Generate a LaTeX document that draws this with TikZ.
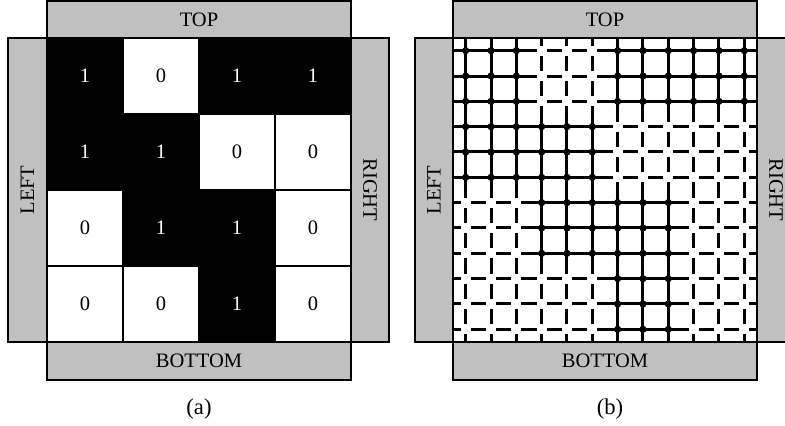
\documentclass[tikz,border=0pt]{standalone}
\usepackage{fontspec}
\setmainfont{Liberation Serif}

\definecolor{sidegray}{RGB}{192,192,192}
\def\cellvals{1,0,1,1, 1,1,0,0, 0,1,1,0, 0,0,1,0}

\begin{document}
\begin{tikzpicture}[x=0.75pt,y=0.75pt,yscale=-1,xscale=1,
	sidebox/.style={draw=black,line width=0.9pt,fill=sidegray},
	lbl/.style={font=\fontsize{15.4}{18}\selectfont},
	captxt/.style={font=\fontsize{17}{20}\selectfont},
	cellbox/.style={draw=black,line width=1.5pt},
	wire/.style={line width=2.25pt}]
		\clip (0,0) rectangle (785,425);
		
		% (a) the 4x4 cells
		\foreach \v [count=\i from 0] in \cellvals {
			\pgfmathtruncatemacro\r{floor(\i/4)}
			\pgfmathtruncatemacro\c{mod(\i,4)}
			\ifnum\v=1 \def\fc{black}\def\tc{white}\else \def\fc{white}\def\tc{black}\fi
			\draw[cellbox,fill=\fc] (47+76*\c,38+76*\r) rectangle ++(76,76);
			\node[lbl,text=\tc] (cell-\i) at (85+76*\c,76+76*\r) {\v};
		}
		
		% (b) the 12x12 grid
		\foreach \k in {0,...,11}{
			\draw[wire] (465.67+25.33*\k,38) -- (465.67+25.33*\k,342);
			\draw[wire] (453,50.67+25.33*\k) -- (757,50.67+25.33*\k);
		}
		\foreach \v [count=\i from 0] in \cellvals {
			\pgfmathtruncatemacro\r{floor(\i/4)}
			\pgfmathtruncatemacro\c{mod(\i,4)}
			\foreach \p in {0,1,2}{
				\foreach \q in {0,1,2}{
					\ifnum\v=1
					\fill (465.67+25.33*3*\c+25.33*\q,50.67+25.33*3*\r+25.33*\p) circle [radius=3.6];
					\else
					\fill[white] (465.67+25.33*3*\c+25.33*\q,50.67+25.33*3*\r+25.33*\p) +(-5,-5) rectangle +(5,5);
					\fi
				}
			}
		}
		
		% side boxes (a)
		\draw[sidebox] (47,1) rectangle (351,38);
		\draw[sidebox] (47,342) rectangle (351,380);
		\draw[sidebox] (8,38) rectangle (47,342);
		\draw[sidebox] (351,38) rectangle (389,342);
		\node[lbl] (topA) at (199,19.5) {TOP};
		\node[lbl] (bottomA) at (199,361) {BOTTOM};
		\node[lbl,rotate=90] (leftA) at (27.5,190) {LEFT};
		\node[lbl,rotate=-90] (rightA) at (370,190) {RIGHT};
		
		% side boxes (b)
		\draw[sidebox] (453,1) rectangle (757,38);
		\draw[sidebox] (453,342) rectangle (757,380);
		\draw[sidebox] (415,38) rectangle (453,342);
		\draw[sidebox] (757,38) rectangle (795,342);
		\node[lbl] (topB) at (605,19.5) {TOP};
		\node[lbl] (bottomB) at (605,361) {BOTTOM};
		\node[lbl,rotate=90] (leftB) at (434,190) {LEFT};
		\node[lbl,rotate=-90] (rightB) at (776,190) {RIGHT};
		
		\node[captxt] (capA) at (199,409) {(a)};
		\node[captxt] (capB) at (610,409) {(b)};
		
\end{tikzpicture}
\end{document}
